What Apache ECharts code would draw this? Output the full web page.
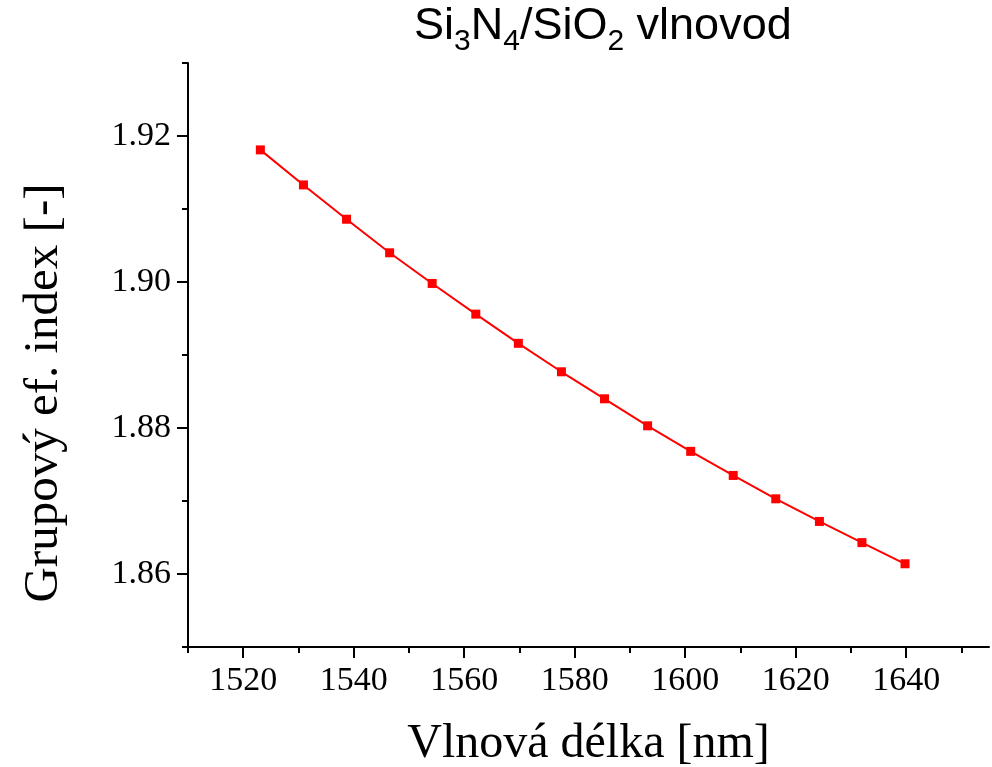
<!DOCTYPE html>
<html>
<head>
<meta charset="utf-8">
<title>Si3N4/SiO2 vlnovod</title>
<script src="https://cdn.jsdelivr.net/npm/echarts@6/dist/echarts.min.js"></script>
<style>
  html, body { margin: 0; padding: 0; background: #fff; }
  #chart { width: 992px; height: 767px; }
</style>
</head>
<body>
<div id="chart"></div>
<script>
// wavelength [nm] and group index
var wavelengths = [1523.1, 1530.9, 1538.7, 1546.5, 1554.2, 1562.1, 1569.8, 1577.6,
                   1585.4, 1593.2, 1601.0, 1608.7, 1616.4, 1624.3, 1632.0, 1639.8];
var groupIndex = [1.9181, 1.9133, 1.9086, 1.9040, 1.8998, 1.8956, 1.8916, 1.8877,
                  1.8840, 1.8803, 1.8768, 1.8735, 1.8703, 1.8672, 1.8643, 1.8614];

var xMajorTicks = [1520, 1540, 1560, 1580, 1600, 1620, 1640];
var xMinorTicks = [1510, 1530, 1550, 1570, 1590, 1610, 1630, 1650];
var yMajorTicks = [1.86, 1.88, 1.90, 1.92];
var yMinorTicks = [1.85, 1.87, 1.89, 1.91, 1.93];

var points = [];
for (var i = 0; i < wavelengths.length; i++) {
    points.push([wavelengths[i], groupIndex[i]]);
}

var serif = "'Liberation Serif', 'Times New Roman', serif";
var sans = "'Liberation Sans', Arial, sans-serif";

var chart = echarts.init(document.getElementById("chart"));

chart.setOption({
    animation: false,
    title: {
        left: 414,
        top: -3,
        padding: 0,
        text: "{a|Si}{s|3}{a|N}{s|4}{a|/SiO}{s|2}{a| vlnovod}",
        textStyle: {
            rich: {
                a: { fontFamily: sans, fontSize: 45, fontWeight: "normal", lineHeight: 60, color: "#000" },
                s: { fontFamily: sans, fontSize: 30, fontWeight: "normal", lineHeight: 28, verticalAlign: "bottom", color: "#000" }
            }
        }
    },
    grid: { left: 188, right: 3, top: 63, bottom: 120, outerBoundsMode: "none" },
    xAxis: [{
        type: "value",
        min: 1510,
        max: 1655,
        name: "Vlnová délka [nm]",
        nameLocation: "middle",
        nameGap: 73,
        nameTextStyle: { fontFamily: serif, fontSize: 48, color: "#000" },
        axisLine: { lineStyle: { color: "#000", width: 2 } },
        axisTick: { customValues: xMajorTicks, length: 11, lineStyle: { color: "#000", width: 2 } },
        axisLabel: {
            customValues: xMajorTicks,
            margin: 17,
            fontFamily: serif, fontSize: 34, lineHeight: 34, color: "#000",
            formatter: function (v) { return String(v); }
        },
        splitLine: { show: false }
    }, {
        // minor ticks only
        type: "value",
        position: "bottom",
        min: 1510,
        max: 1655,
        axisLine: { show: false },
        axisTick: { customValues: xMinorTicks, length: 6, lineStyle: { color: "#000", width: 2 } },
        axisLabel: { show: false },
        splitLine: { show: false }
    }],
    yAxis: [{
        type: "value",
        min: 1.85,
        max: 1.93,
        name: "Grupový ef. index [-]",
        nameLocation: "middle",
        nameGap: 119,
        nameTextStyle: { fontFamily: serif, fontSize: 49, color: "#000", padding: [0, 76, 0, 0] },
        axisLine: { show: true, lineStyle: { color: "#000", width: 2 } },
        axisTick: { show: true, customValues: yMajorTicks, length: 11, lineStyle: { color: "#000", width: 2 } },
        axisLabel: {
            customValues: yMajorTicks,
            margin: 17,
            fontFamily: serif, fontSize: 34, color: "#000",
            formatter: function (v) { return v.toFixed(2); }
        },
        splitLine: { show: false }
    }, {
        type: "value",
        position: "left",
        min: 1.85,
        max: 1.93,
        axisLine: { show: false },
        axisTick: { show: true, customValues: yMinorTicks, length: 6, lineStyle: { color: "#000", width: 2 } },
        axisLabel: { show: false },
        splitLine: { show: false }
    }],
    series: [{
        type: "line",
        data: points,
        symbol: "rect",
        symbolSize: 9,
        color: "#ff0000",
        lineStyle: { color: "#ff0000", width: 2 },
        itemStyle: { color: "#ff0000" }
    }]
});
</script>
</body>
</html>
